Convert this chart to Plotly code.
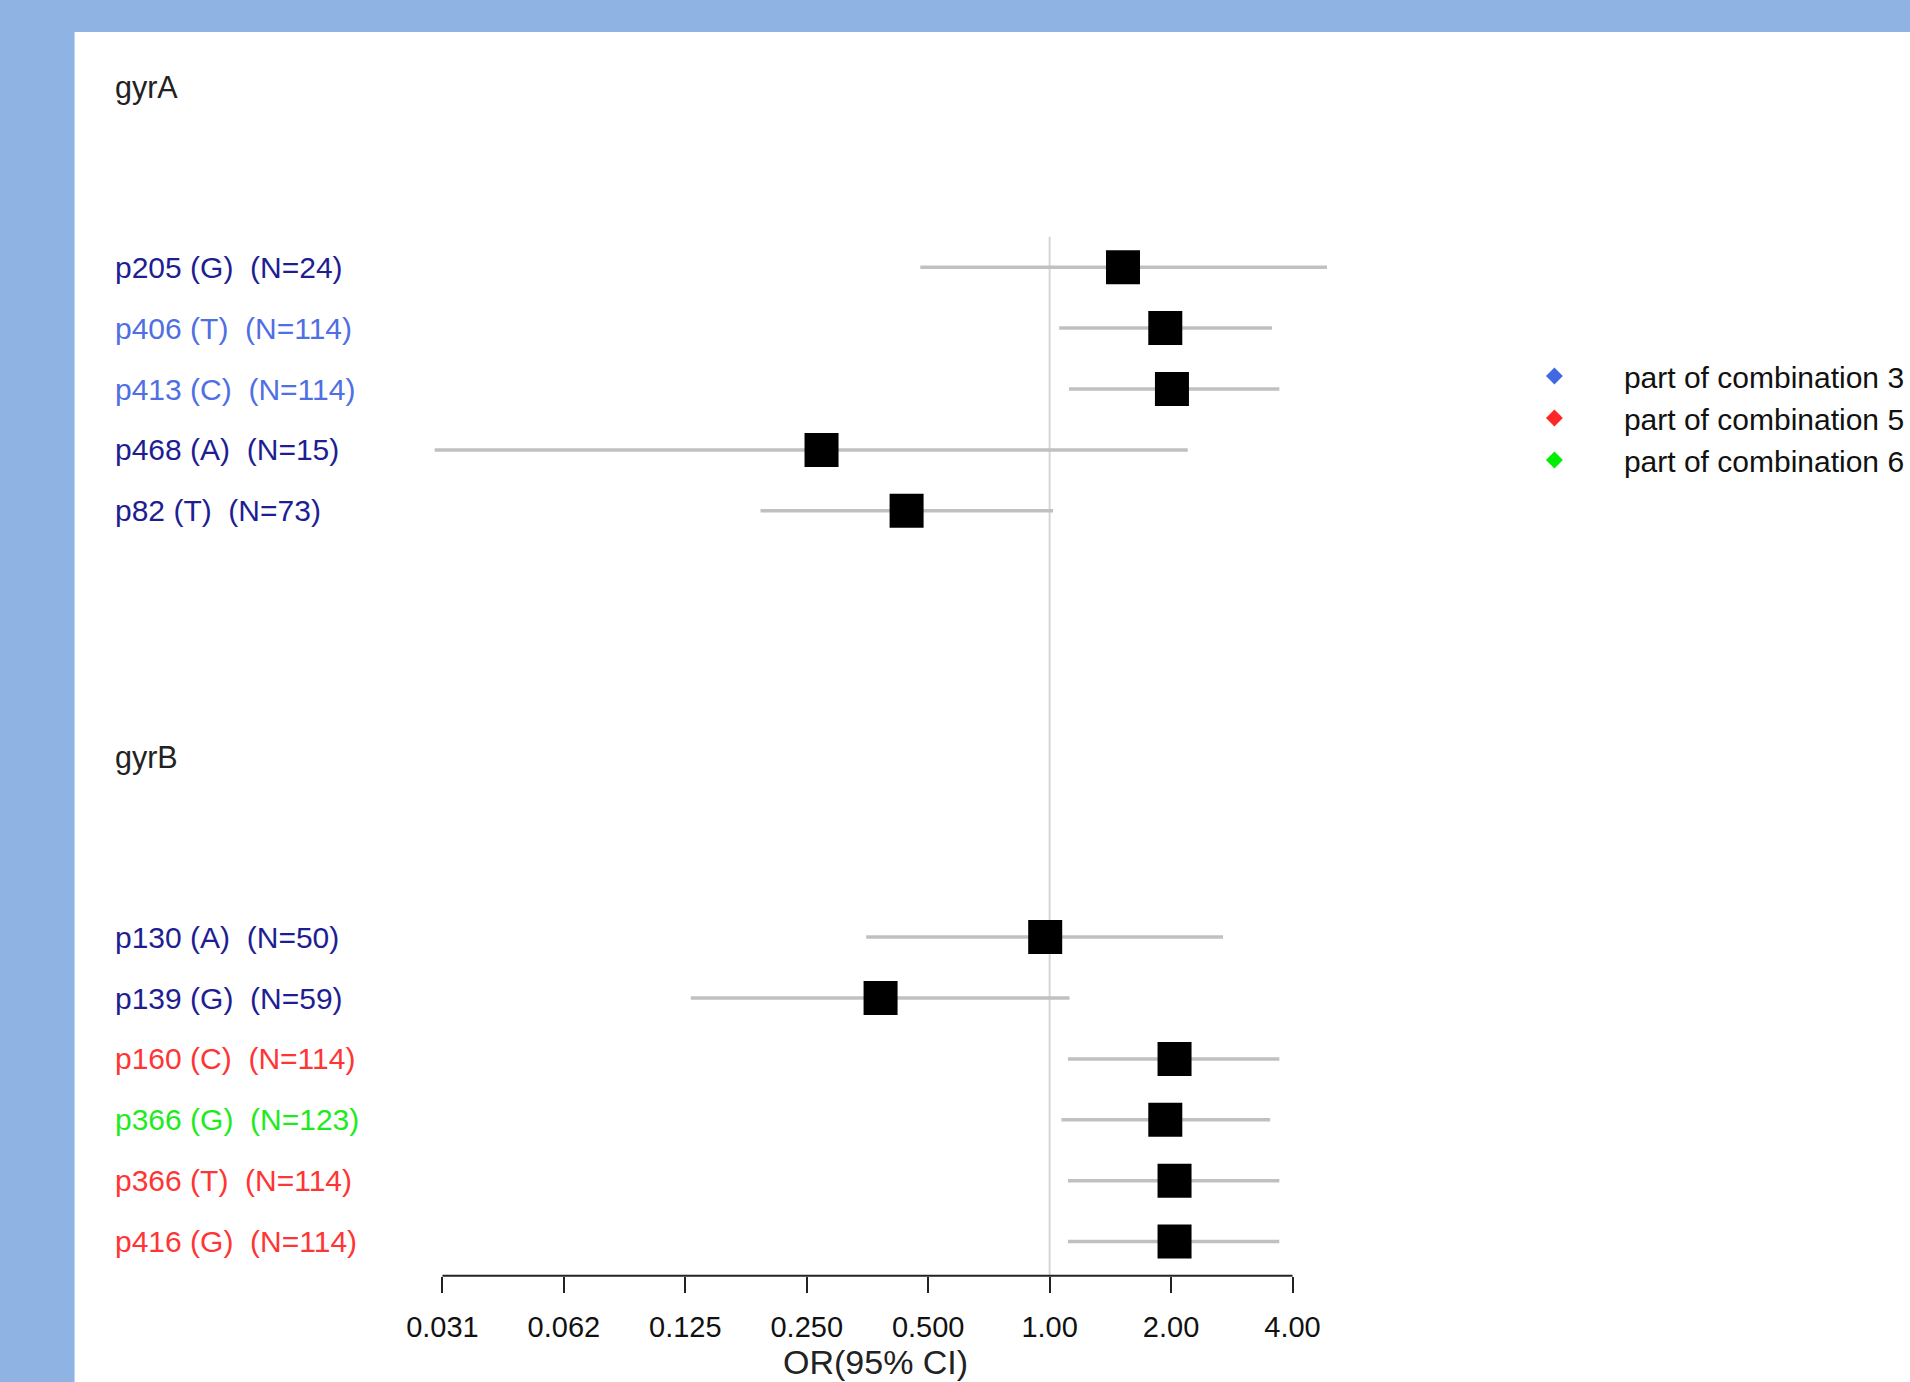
import math
import plotly.graph_objects as go

# ---------------- data ----------------
group_names = ["gyrA", "gyrB"]
group_rows = [0, 11]

mutations = ["p205 (G)", "p406 (T)", "p413 (C)", "p468 (A)", "p82 (T)",
             "p130 (A)", "p139 (G)", "p160 (C)", "p366 (G)", "p366 (T)", "p416 (G)"]
n_obs = [24, 114, 114, 15, 73, 50, 59, 114, 123, 114, 114]
rows = [3, 4, 5, 6, 7, 14, 15, 16, 17, 18, 19]
odds_ratio = [1.52, 1.935, 2.01, 0.272, 0.442, 0.975, 0.381, 2.04, 1.935, 2.04, 2.04]
ci_low = [0.478, 1.056, 1.117, 0.0299, 0.192, 0.351, 0.129, 1.11, 1.07, 1.11, 1.11]
ci_high = [4.87, 3.56, 3.71, 2.20, 1.02, 2.69, 1.12, 3.71, 3.52, 3.71, 3.71]
combination = ["none", "3", "3", "none", "none", "none", "none", "5", "6", "5", "5"]

legend_labels = ["part of combination 3", "part of combination 5", "part of combination 6"]
legend_keys = ["3", "5", "6"]

tick_vals = [0.03125, 0.0625, 0.125, 0.25, 0.5, 1, 2, 4]
tick_text = ["0.031", "0.062", "0.125", "0.250", "0.500", "1.00", "2.00", "4.00"]

# ---------------- styles ----------------
W, H = 1910, 1382
text_colors = {"none": "#1E1E92", "3": "#4F6FE3", "5": "#FF3535", "6": "#1EEB1E"}
marker_colors = {"3": "#4169E1", "5": "#FF2626", "6": "#00EE00"}
FONT = "Liberation Sans, Arial, sans-serif"

# pixel calibration of the axes
px_lo, px_hi = 445, 1300           # pixel of first / last tick
row0_px, row_step = 84.5, 60.9     # pixel of row 0, pixels per row
l_lo, l_hi = math.log10(tick_vals[0]), math.log10(tick_vals[-1])
per_px = (l_hi - l_lo) / (px_hi - px_lo)
x_range = [l_lo - px_lo * per_px, l_hi + (W - px_hi) * per_px]
y_top = -row0_px / row_step
y_bot = (H - row0_px) / row_step
axis_row = 19.56
axis_pos = (y_bot - axis_row) / (y_bot - y_top)

fig = go.Figure()

# CI lines
xs, ys = [], []
for lo_, hi_, r in zip(ci_low, ci_high, rows):
    xs += [lo_, hi_, None]
    ys += [r, r, None]
fig.add_trace(go.Scatter(x=xs, y=ys, mode="lines",
                         line=dict(color="#C0C0C0", width=3.5),
                         showlegend=False, hoverinfo="skip"))

# point estimates
fig.add_trace(go.Scatter(x=odds_ratio, y=rows, mode="markers",
                         marker=dict(symbol="square", size=34, color="black",
                                     line=dict(width=0)),
                         showlegend=False))

# legend entries
for key, lab in zip(legend_keys, legend_labels):
    fig.add_trace(go.Scatter(x=[None], y=[None], mode="markers", name=lab,
                             legendgroup=key,
                             marker=dict(symbol="diamond", size=13,
                                         color=marker_colors[key])))

shapes = [
    dict(type="rect", xref="paper", yref="paper", x0=75 / W, x1=1.01, y0=-0.01, y1=1 - 32 / H,
         fillcolor="white", line=dict(width=0), layer="below"),
    dict(type="line", xref="x", yref="y", x0=1, x1=1, y0=2.5, y1=axis_row,
         line=dict(color="#D6D6D6", width=2), layer="below"),
    dict(type="line", xref="x", yref="y", x0=tick_vals[0], x1=tick_vals[-1],
         y0=axis_row, y1=axis_row, line=dict(color="#222222", width=2)),
]

annotations = []
for name, r in zip(group_names, group_rows):
    annotations.append(dict(x=114 / W, xref="paper", y=r, yref="y", text=name,
                            xanchor="left", yanchor="middle", showarrow=False, yshift=-3,
                            font=dict(family=FONT, size=30.5, color="#222222")))
for m, nn, r, c in zip(mutations, n_obs, rows, combination):
    annotations.append(dict(x=114 / W, xref="paper", y=r, yref="y",
                            text=f"{m}  (N={nn})",
                            xanchor="left", yanchor="middle", showarrow=False,
                            font=dict(family=FONT, size=30, color=text_colors[c])))
annotations.append(dict(x=881 / W, xref="paper", y=1 - 1362 / H, yref="paper",
                        text="OR(95% CI)", xanchor="center", yanchor="middle",
                        showarrow=False,
                        font=dict(family=FONT, size=34, color="#222222")))

fig.update_layout(
    width=W, height=H,
    margin=dict(l=0, r=0, t=0, b=0),
    paper_bgcolor="#8FB4E3",
    plot_bgcolor="rgba(0,0,0,0)",
    shapes=shapes,
    annotations=annotations,
    xaxis=dict(type="log", range=x_range, domain=[0, 1], anchor="free",
               position=axis_pos, showgrid=False, zeroline=False, showline=False,
               tickvals=tick_vals, ticktext=tick_text, ticks="outside",
               ticklen=16, tickwidth=2, tickcolor="#222222",
               ticklabelstandoff=9,
               tickfont=dict(family=FONT, size=29, color="#111111")),
    yaxis=dict(range=[y_bot, y_top], domain=[0, 1], showgrid=False, zeroline=False,
               showline=False, showticklabels=False, ticks=""),
    legend=dict(x=1493.5 / W, y=1 - 350 / H, xanchor="left", yanchor="top",
                bgcolor="rgba(0,0,0,0)", itemwidth=129, tracegroupgap=0,
                font=dict(family=FONT, size=30, color="#111111")),
    showlegend=True,
)

fig.write_html("out.html",
               config={"displayModeBar": False},
               post_script="document.body.style.margin='0';"
                           "document.body.style.overflow='hidden';"
                           "document.documentElement.style.overflow='hidden';")
